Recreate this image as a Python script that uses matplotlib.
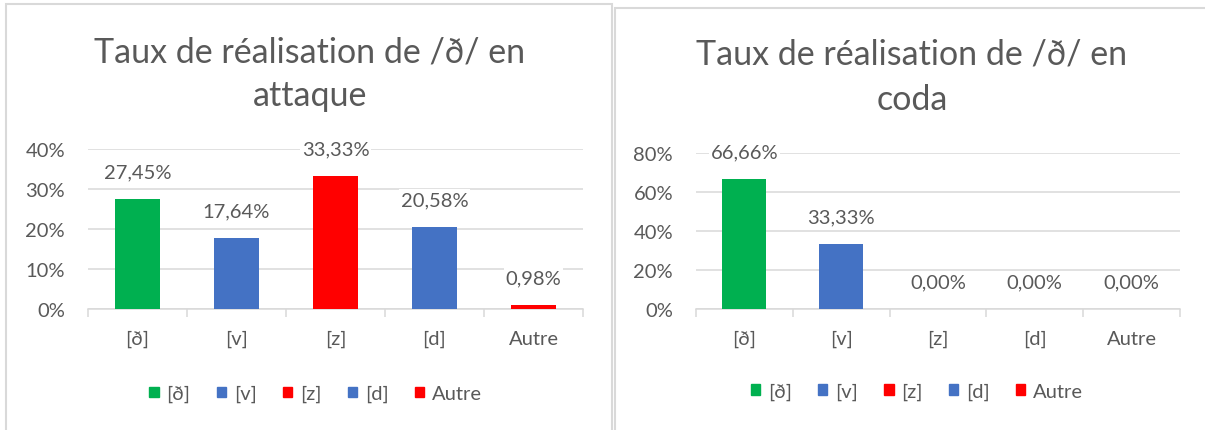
import matplotlib
matplotlib.use("Agg")
from matplotlib import pyplot as plt
from matplotlib.patches import Rectangle
from matplotlib.ticker import FuncFormatter, MultipleLocator

# data
categories = ["[ð]", "[v]", "[z]", "[d]", "Autre"]
attaque_values = [27.45, 17.64, 33.33, 20.58, 0.98]
coda_values = [66.66, 33.33, 0.00, 0.00, 0.00]
attaque_labels = ["27,45%", "17,64%", "33,33%", "20,58%", "0,98%"]
coda_labels = ["66,66%", "33,33%", "0,00%", "0,00%", "0,00%"]
bar_colors = ["#00B050", "#4472C4", "#FF0000", "#4472C4", "#FF0000"]
attaque_title = ["Taux de réalisation de /ð/ en", "attaque"]
coda_title = ["Taux de réalisation de /ð/ en", "coda"]

TEXT = "#595959"
GRID = "#D9D9D9"
FS = 14.5
plt.rcParams["font.family"] = ["Lato", "DejaVu Sans"]

W, H = 1205, 431
fig = plt.figure(figsize=(W / 100, H / 100), dpi=100)


def px_axes(x0, x1, y_top, y_bot):
    # pixel box (origin top-left) -> figure axes
    return fig.add_axes([x0 / W, 1 - y_bot / H, (x1 - x0) / W, (y_bot - y_top) / H])


def draw_chart(ax, values, labels, ymax, step, title, title_x, title_y, legend_x):
    x = range(len(categories))
    ax.bar(x, values, width=0.455, color=bar_colors, zorder=3)
    ax.set_xlim(-0.5, len(categories) - 0.5)
    ax.set_ylim(0, ymax)
    ax.yaxis.set_major_locator(MultipleLocator(step))
    ax.yaxis.set_major_formatter(FuncFormatter(lambda v, p: "%d%%" % round(v)))
    ax.grid(axis="y", color=GRID, linewidth=1.1, zorder=0)
    for s in ["top", "right", "left"]:
        ax.spines[s].set_visible(False)
    ax.spines["bottom"].set_color(GRID)
    ax.spines["bottom"].set_linewidth(1.1)
    ax.tick_params(axis="y", length=0, pad=16.5, labelsize=FS, labelcolor=TEXT)
    # tick marks sit between the categories, labels in the middle
    ax.set_xticks([i - 0.5 for i in range(len(categories) + 1)], minor=False)
    ax.set_xticklabels([])
    ax.tick_params(axis="x", which="major", length=6, width=1.1, color=GRID)
    ax.set_xticks(list(x), minor=True)
    ax.set_xticklabels(categories, minor=True)
    ax.tick_params(axis="x", which="minor", length=0, pad=15, labelsize=FS, labelcolor=TEXT)
    for i, (v, lab) in enumerate(zip(values, labels)):
        ax.annotate(lab, (i, v), xytext=(0, 19.5), textcoords="offset points",
                    ha="center", va="center", fontsize=FS, color=TEXT, zorder=4,
                    bbox=dict(boxstyle="square,pad=0.1", fc="white", ec="none"))
    for line, y in zip(title, title_y):
        fig.text(title_x / W, 1 - y / H, line, ha="center", va="baseline",
                 fontsize=24.5, color=TEXT)
    handles = [Rectangle((0, 0), 1, 1, color=c) for c in bar_colors]
    ax.legend(handles, categories, loc="center", bbox_to_anchor=(legend_x, -0.53),
              ncol=5, frameon=False, fontsize=FS, handlelength=0.45, handleheight=0.45,
              handletextpad=0.4, columnspacing=1.3, labelcolor=TEXT)


ax1 = px_axes(88, 583, 150, 310)
draw_chart(ax1, attaque_values, attaque_labels, 40, 10, attaque_title, 310, [63, 106], 0.46)
ax2 = px_axes(696, 1180, 154, 310)
draw_chart(ax2, coda_values, coda_labels, 80, 20, coda_title, 912, [65, 110], 0.457)

# chart area borders
fig.patches.append(Rectangle((6 / W, -0.1), 606 / W, 1.1 - 5 / H, transform=fig.transFigure,
                             fill=False, ec=GRID, lw=1.5))
fig.patches.append(Rectangle((615 / W, -0.1), 600 / W, 1.1 - 9 / H, transform=fig.transFigure,
                             fill=False, ec=GRID, lw=1.5))

fig.savefig("out.png", dpi=100)
